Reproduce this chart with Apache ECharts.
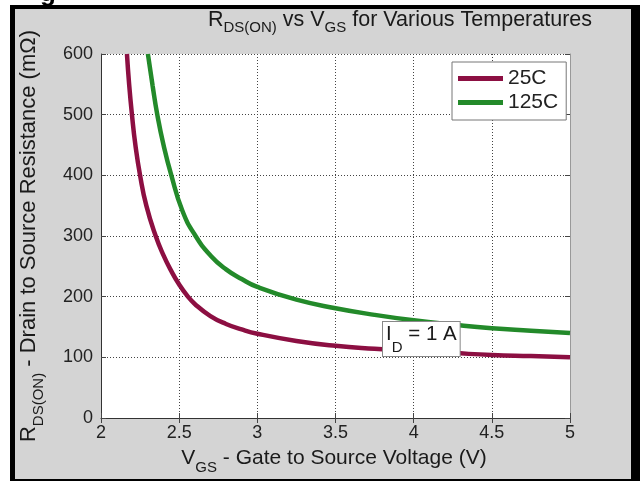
<!DOCTYPE html>
<html>
<head>
<meta charset="utf-8">
<script src="https://cdn.jsdelivr.net/npm/echarts@6/dist/echarts.min.js"></script>
<style>
html,body{margin:0;padding:0;background:#fff;width:640px;height:481px;overflow:hidden;}
#frame{position:absolute;left:10px;top:5px;width:630px;height:476px;background:#000;}
#panel{position:absolute;left:15px;top:9px;width:616px;height:470px;background:#d4d4d4;}
#chart{position:absolute;left:0;top:0;width:640px;height:481px;}
</style>
</head>
<body>
<div id="frame"></div>
<div id="panel"></div>
<div id="chart"></div>
<script>
// Data
const seriesNames = ['25C', '125C'];
const vgs25 = [2.166, 2.18, 2.198, 2.22, 2.25, 2.29, 2.35, 2.40, 2.45, 2.50, 2.55, 2.60, 2.70, 2.80, 2.90, 3.00, 3.25, 3.50, 3.75, 4.00, 4.25, 4.50, 4.75, 5.00];
const rds25 = [600, 550, 500, 450, 400, 350, 300, 268, 242, 220, 202, 188, 168, 155, 146, 139, 127, 119, 114, 110, 107, 104, 102, 100];
const vgs125 = [2.30, 2.33, 2.36, 2.40, 2.45, 2.52, 2.60, 2.70, 2.80, 2.90, 3.00, 3.25, 3.50, 3.75, 4.00, 4.25, 4.50, 4.75, 5.00];
const rds125 = [600, 548, 500, 450, 400, 342, 302, 268, 245, 229, 216, 195, 181, 170, 161, 154, 148, 144, 140];
const xTicks = { min: 2, max: 5, step: 0.5 };
const yTicks = { min: 0, max: 600, step: 100 };

const FONT = '"Liberation Sans", Arial, Helvetica, sans-serif';
const colors = ['#8c0f42', '#238a2a'];

const zip = (xs, ys) => xs.map((x, i) => [x, ys[i]]);

const chart = echarts.init(document.getElementById('chart'), null, { renderer: 'canvas' });

const gridLine = { show: true, lineStyle: { type: [1, 2], color: '#444', width: 1 } };
const tickStyle = { show: true, inside: true, length: 5, lineStyle: { color: '#444', width: 1 } };

const option = {
  backgroundColor: 'transparent',
  animation: false,
  grid: { left: 101, right: 70, top: 54, bottom: 63, show: true, backgroundColor: '#fff', borderWidth: 0 },
  xAxis: [
    {
      type: 'value', min: xTicks.min, max: xTicks.max, interval: xTicks.step, position: 'bottom',
      axisLine: { show: true, onZero: false, lineStyle: { color: '#333', width: 1 } },
      axisTick: tickStyle,
      axisLabel: { color: '#222', fontSize: 18, fontFamily: FONT, margin: 6 },
      splitLine: gridLine
    },
    {
      type: 'value', min: xTicks.min, max: xTicks.max, interval: xTicks.step, position: 'top',
      axisLine: { show: false }, axisTick: tickStyle, axisLabel: { show: false }, splitLine: { show: false }
    }
  ],
  yAxis: [
    {
      type: 'value', min: yTicks.min, max: yTicks.max, interval: yTicks.step, position: 'left',
      axisLine: { show: true, onZero: false, lineStyle: { color: '#333', width: 1 } },
      axisTick: tickStyle,
      axisLabel: { color: '#222', fontSize: 18, fontFamily: FONT, margin: 8 },
      splitLine: gridLine
    },
    {
      type: 'value', min: yTicks.min, max: yTicks.max, interval: yTicks.step, position: 'right',
      axisLine: { show: true, onZero: false, lineStyle: { color: '#999', width: 1 } },
      axisTick: tickStyle, axisLabel: { show: false }, splitLine: { show: false }
    }
  ],
  legend: {
    data: seriesNames,
    orient: 'vertical',
    left: 452, top: 62,
    backgroundColor: '#fff',
    borderColor: '#777', borderWidth: 1, borderRadius: 0,
    padding: [6, 8, 7, 6],
    itemWidth: 45, itemHeight: 5, itemGap: 3,
    icon: 'rect',
    textStyle: { fontSize: 21, fontFamily: FONT, color: '#222' }
  },
  series: [
    {
      name: seriesNames[0], type: 'line', data: zip(vgs25, rds25), smooth: 0.5,
      showSymbol: false, color: colors[0], lineStyle: { width: 4.5, color: colors[0] }, clip: true
    },
    {
      name: seriesNames[1], type: 'line', data: zip(vgs125, rds125), smooth: 0.5,
      showSymbol: false, color: colors[1], lineStyle: { width: 4.5, color: colors[1] }, clip: true
    }
  ],
  graphic: [
    {
      type: 'text', x: 40, y: -6, silent: true,
      style: { text: 'g', fill: '#000', font: 'bold 26px ' + FONT, align: 'left', verticalAlign: 'middle' }
    },
    {
      type: 'text', x: 400, y: 9, silent: true,
      style: {
        text: '{n|R}{s|DS(ON)}{n| vs V}{s|GS}{n| for Various Temperatures}',
        align: 'center', verticalAlign: 'top',
        rich: {
          n: { fill: '#1a1a1a', fontSize: 21.5, fontFamily: FONT, lineHeight: 26, verticalAlign: 'top' },
          s: { fill: '#1a1a1a', fontSize: 15, fontFamily: FONT, lineHeight: 26, verticalAlign: 'bottom' }
        }
      }
    },
    {
      type: 'text', x: 334, y: 448, silent: true,
      style: {
        text: '{n|V}{s|GS}{n| - Gate to Source Voltage (V)}',
        align: 'center', verticalAlign: 'top',
        rich: {
          n: { fill: '#1a1a1a', fontSize: 21, fontFamily: FONT, lineHeight: 27, verticalAlign: 'top' },
          s: { fill: '#1a1a1a', fontSize: 15, fontFamily: FONT, lineHeight: 27, verticalAlign: 'bottom' }
        }
      }
    },
    {
      type: 'text', x: 32, y: 236, rotation: Math.PI / 2, silent: true,
      style: {
        text: '{n|R}{s|DS(ON)}{n| - Drain to Source Resistance (mΩ)}',
        align: 'center', verticalAlign: 'middle',
        rich: {
          n: { fill: '#1a1a1a', fontSize: 22, fontFamily: FONT, lineHeight: 28, verticalAlign: 'top' },
          s: { fill: '#1a1a1a', fontSize: 15, fontFamily: FONT, lineHeight: 28, verticalAlign: 'bottom' }
        }
      }
    },
    {
      type: 'text', x: 383, y: 322, silent: true, z: 100,
      style: {
        text: '{n|I}{s|D}{n| = 1 A}',
        align: 'left', verticalAlign: 'top',
        backgroundColor: '#fff', borderColor: '#888', borderWidth: 1,
        padding: [2, 3, 1, 3],
        rich: {
          n: { fill: '#1a1a1a', fontSize: 20.5, fontFamily: FONT, lineHeight: 31, verticalAlign: 'top' },
          s: { fill: '#1a1a1a', fontSize: 15, fontFamily: FONT, lineHeight: 31, verticalAlign: 'bottom' }
        }
      }
    }
  ]
};

chart.setOption(option);
</script>
</body>
</html>
